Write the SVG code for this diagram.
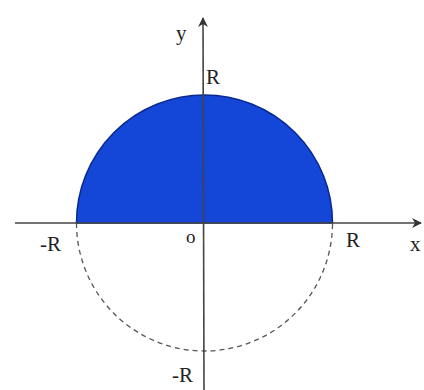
<svg xmlns="http://www.w3.org/2000/svg" width="424" height="390" viewBox="0 0 424 390">
<style>
.lbl{font-family:"Liberation Serif","Times New Roman",serif;font-size:21px;fill:#222}
.axis{stroke:#444;stroke-width:1.6;fill:none}
</style>
<defs>
<marker id="arr" viewBox="0 0 10 10" refX="9" refY="5" markerWidth="10" markerHeight="10" markerUnits="userSpaceOnUse" orient="auto">
<path d="M0,0 L10,5 L0,10 L3,5 Z" fill="#333"/>
</marker>
</defs>
<rect width="424" height="390" fill="#fff"/>
<g id="shape">
<path d="M76.5,223 A128,128 0 0 1 332.5,223 Z" fill="#1446d8" stroke="#0a2a90" stroke-width="1.5"/>
<path d="M76.5,223 A128,128 0 0 0 332.5,223" fill="none" stroke="#555" stroke-width="1.3" stroke-dasharray="5,4"/>
</g>
<g id="axes">
<line class="axis" x1="15" y1="223" x2="421" y2="223" marker-end="url(#arr)"/>
<line class="axis" x1="204" y1="390" x2="203" y2="18" marker-end="url(#arr)"/>
</g>
<g id="labels">
<text class="lbl" x="176" y="40">y</text>
<text class="lbl" x="206" y="84">R</text>
<text class="lbl" x="40" y="251">-R</text>
<text class="lbl" x="186" y="243" style="font-size:19px">o</text>
<text class="lbl" x="346" y="247">R</text>
<text class="lbl" x="410" y="251">x</text>
<text class="lbl" x="172" y="382">-R</text>
</g>
</svg>
